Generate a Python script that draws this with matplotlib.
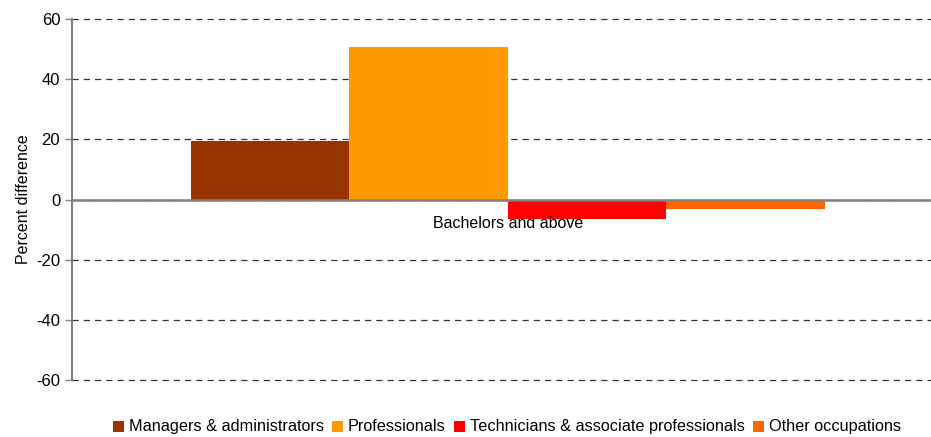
import numpy as np
import matplotlib.pyplot as plt
from matplotlib.patches import Rectangle

plt.rcParams['font.family'] = ['Liberation Sans', 'DejaVu Sans']
plt.rcParams['axes.unicode_minus'] = False

category = 'Bachelors and above'
occupations = ['Managers & administrators', 'Professionals',
               'Technicians & associate professionals', 'Other occupations']
values = [19.4, 50.7, -6.6, -3.2]
colours = ['#993300', '#FF9900', '#FF0000', '#FF6600']

W, H = 931, 437
fig = plt.figure(figsize=(W / 100, H / 100), dpi=100)
ax = fig.add_axes([72 / W, (H - 380) / H, (W - 72) / W, 361 / H])

offsets = np.arange(len(values)) - 1.5
ax.bar(offsets, values, width=1.0, color=colours, zorder=3)

ax.set_xlim(-2.75, 2.67)
ax.set_ylim(-60, 60)
ax.set_yticks(np.arange(-60, 61, 20))
ax.set_xticks([])
ax.grid(axis='y', linestyle=(0, (5, 4)), color='#333333', linewidth=0.9, zorder=0)
for gl in ax.yaxis.get_gridlines():
    gl.set_clip_on(False)
ax.axhline(0, color='#808080', linewidth=1.8, zorder=4)

for s in ['top', 'right', 'bottom']:
    ax.spines[s].set_visible(False)
ax.spines['left'].set_color('#808080')
ax.spines['left'].set_linewidth(1.5)
ax.tick_params(axis='y', colors='#808080', labelcolor='black', labelsize=12,
               length=5, width=1)
ax.set_ylabel('Percent difference', fontsize=11.5, labelpad=4)

ax.text(0, -5.5, category, ha='center', va='top', fontsize=11.5)

# legend row laid out in pixels so all labels share one baseline
renderer = fig.canvas.get_renderer()
x = 113
base = H - 431
for label, c in zip(occupations, colours):
    fig.add_artist(Rectangle((x / W, (base - 1) / H), 11 / W, 11 / H,
                             transform=fig.transFigure, facecolor=c, edgecolor='none'))
    t = fig.text((x + 16) / W, base / H, label, fontsize=11.7, va='baseline', ha='left')
    w = t.get_window_extent(renderer).width
    x += 16 + w + 8

fig.savefig('out.png', dpi=100)
